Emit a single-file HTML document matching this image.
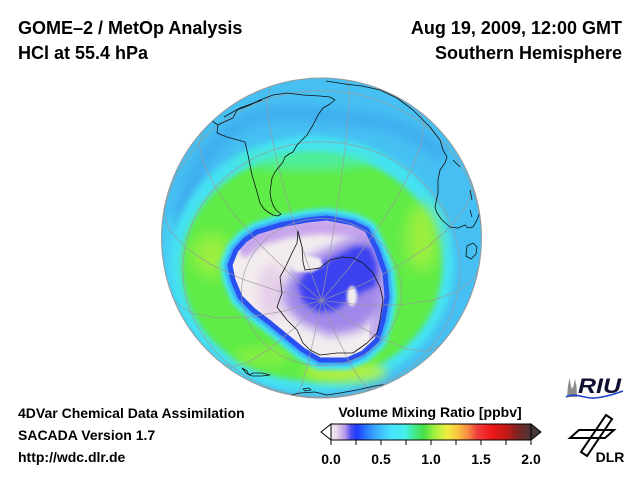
<!DOCTYPE html>
<html>
<head>
<meta charset="utf-8">
<style>
html,body{margin:0;padding:0;background:#fff;width:640px;height:480px;overflow:hidden;}
svg{display:block;}
text{font-family:"Liberation Sans",Arial,sans-serif;font-weight:bold;fill:#000;}
</style>
</head>
<body>
<svg width="640" height="480" viewBox="0 0 640 480" xmlns="http://www.w3.org/2000/svg">
<defs>
  <clipPath id="globe"><circle cx="321.5" cy="238" r="160"/></clipPath>
  <clipPath id="vort"><polygon points="233,280 230,265 236,250 245,240 257,232 280,225 307,220 327,218 353,223 367,230 377,250 385,273 387,297 383,320 377,340 363,353 347,360 320,360 303,350 287,337 270,323 253,310 240,297"/></clipPath>
  <filter id="b1" x="-30%" y="-30%" width="160%" height="160%"><feGaussianBlur stdDeviation="1.2"/></filter>
  <filter id="b2" x="-30%" y="-30%" width="160%" height="160%"><feGaussianBlur stdDeviation="2"/></filter>
  <filter id="b3" x="-30%" y="-30%" width="160%" height="160%"><feGaussianBlur stdDeviation="3"/></filter>
  <filter id="b5" x="-30%" y="-30%" width="160%" height="160%"><feGaussianBlur stdDeviation="5"/></filter>
  <filter id="b8" x="-40%" y="-40%" width="180%" height="180%"><feGaussianBlur stdDeviation="8"/></filter>
  <linearGradient id="cb" x1="331" y1="0" x2="531" y2="0" gradientUnits="userSpaceOnUse">
    <stop offset="0" stop-color="#f4ecec"/>
    <stop offset="0.03" stop-color="#e8d4e8"/>
    <stop offset="0.07" stop-color="#b898ec"/>
    <stop offset="0.10" stop-color="#5050f0"/>
    <stop offset="0.13" stop-color="#1c3cff"/>
    <stop offset="0.18" stop-color="#2c80ff"/>
    <stop offset="0.24" stop-color="#40b8ff"/>
    <stop offset="0.30" stop-color="#48e4ff"/>
    <stop offset="0.37" stop-color="#44f0e8"/>
    <stop offset="0.42" stop-color="#44e888"/>
    <stop offset="0.46" stop-color="#44e048"/>
    <stop offset="0.52" stop-color="#a8f040"/>
    <stop offset="0.58" stop-color="#f0f040"/>
    <stop offset="0.63" stop-color="#f8c840"/>
    <stop offset="0.68" stop-color="#f89040"/>
    <stop offset="0.73" stop-color="#f04040"/>
    <stop offset="0.80" stop-color="#f01818"/>
    <stop offset="0.88" stop-color="#c01818"/>
    <stop offset="0.93" stop-color="#802424"/>
    <stop offset="1" stop-color="#4c3434"/>
  </linearGradient>
</defs>

<!-- Header text -->
<text x="18" y="34" font-size="18">GOME–2 / MetOp Analysis</text>
<text x="18" y="59" font-size="18">HCl at 55.4 hPa</text>
<text x="622" y="34" font-size="18" text-anchor="end">Aug 19, 2009, 12:00 GMT</text>
<text x="622" y="59" font-size="18" text-anchor="end">Southern Hemisphere</text>

<!-- Globe -->
<g clip-path="url(#globe)">
  <rect x="158" y="74" width="328" height="328" fill="#46c0f2"/>
  <path d="M180,240 C182,195 198,155 232,130 S300,114 340,117 S412,126 442,156" stroke="#3a9cee" stroke-width="14" fill="none" opacity="0.55" filter="url(#b5)"/>
  <ellipse cx="170" cy="258" rx="8" ry="45" fill="#4cd8f4" opacity="0.6" filter="url(#b3)"/>
  <!-- cyan band -->
  <ellipse cx="312" cy="264" rx="142" ry="128" fill="#44e2f2" filter="url(#b3)"/>
  <!-- green ring -->
  <ellipse cx="312" cy="267" rx="130" ry="114" fill="#5eec46" filter="url(#b3)"/>
  <ellipse cx="305" cy="160" rx="70" ry="10" fill="#48eec0" opacity="0.7" filter="url(#b5)"/>
  <ellipse cx="212" cy="255" rx="20" ry="22" fill="#a4f040" opacity="0.85" filter="url(#b8)"/>
  <ellipse cx="422" cy="238" rx="16" ry="34" fill="#a8f040" opacity="0.85" filter="url(#b8)"/>
  <ellipse cx="345" cy="372" rx="42" ry="11" fill="#b8f040" opacity="0.9" filter="url(#b5)"/>
  <ellipse cx="262" cy="356" rx="28" ry="10" fill="#90f040" opacity="0.7" filter="url(#b5)"/>
  <!-- vortex halo -->
  <polygon points="233,280 230,265 236,250 245,240 257,232 280,225 307,220 327,218 353,223 367,230 377,250 385,273 387,297 383,320 377,340 363,353 347,360 320,360 303,350 287,337 270,323 253,310 240,297" fill="#44e4f4" stroke="#44e4f4" stroke-width="20" stroke-linejoin="round" filter="url(#b2)"/>
  <polygon points="233,280 230,265 236,250 245,240 257,232 280,225 307,220 327,218 353,223 367,230 377,250 385,273 387,297 383,320 377,340 363,353 347,360 320,360 303,350 287,337 270,323 253,310 240,297" fill="#3aa8f8" stroke="#3aa8f8" stroke-width="11" stroke-linejoin="round" filter="url(#b1)"/>
  <!-- vortex interior -->
  <g clip-path="url(#vort)">
    <rect x="225" y="212" width="170" height="155" fill="#f3ecee"/>
    <path d="M240,252 L258,238 L290,229 L322,226 L352,229 L372,238" stroke="#c8a6ec" stroke-width="16" fill="none" filter="url(#b3)"/>
    <path d="M372,238 L382,270 L382,310 L372,338" stroke="#b89cee" stroke-width="12" fill="none" opacity="0.8" filter="url(#b3)"/>
    <ellipse cx="272" cy="292" rx="14" ry="28" fill="#e6d0ea" filter="url(#b5)"/>
    <polygon points="283,290 298,262 325,250 350,238 374,238 384,272 380,312 360,330 330,336 300,322 285,306" fill="#a088ea" filter="url(#b5)"/>
    <polygon points="298,284 308,270 325,262 340,254 356,246 370,247 377,264 376,286 362,292 346,302 334,311 317,312 303,302" fill="#3c42f0" filter="url(#b3)"/>
    <polygon points="287,262 292,252 305,255 320,258 323,266 312,272 296,272" fill="#f3ecee" filter="url(#b1)"/>
    <ellipse cx="352" cy="296" rx="5" ry="10" fill="#f3ecee" filter="url(#b1)"/>
  </g>
  <polygon points="233,280 230,265 236,250 245,240 257,232 280,225 307,220 327,218 353,223 367,230 377,250 385,273 387,297 383,320 377,340 363,353 347,360 320,360 303,350 287,337 270,323 253,310 240,297" fill="none" stroke="#2a50f2" stroke-width="5" stroke-linejoin="round"/>

  <!-- grid -->
  <g fill="none" stroke="#9a9a9a" stroke-width="0.8" opacity="0.8">
    <ellipse cx="321.5" cy="292.1" rx="80" ry="73.6"/>
    <ellipse cx="321.5" cy="269.3" rx="138.6" ry="127.5"/>
    <path d="M161.5,238 A160,147.3 0 0 1 481.5,238"/>
    <polyline points="321.5,300.5 328.7,260.8 335.4,219.6 341.1,179.7 345.6,143.7 348.3,114.1 349.3,93 347.1,80.1"/>
    <polyline points="321.5,300.5 307.3,262.6 294.1,222.9 282.8,184.4 274.1,149.4 268.7,120.5 266.8,99.6 270.7,86.3"/>
    <polyline points="321.5,300.5 348.1,269.2 372.9,235.7 394.2,202.5 410.6,171.6 420.8,145.2 424.3,125.2 419.3,111.4"/>
    <polyline points="321.5,300.5 289.8,273.9 260.2,244.8 234.9,215.3 215.4,187.3 203.2,162.7 198.9,143.3 203.3,130.2"/>
    <polyline points="321.5,300.5 360.4,285.4 396.7,266.9 427.8,246.6 451.7,225.7 466.7,205.5 471.9,187.6 470.3,179.1"/>
    <polyline points="321.5,300.5 280.7,291.8 242.7,279.3 210.1,264.1 185,247.1 169.3,229.5 163.9,212.4 164.4,207.9"/>
    <polyline points="321.5,300.5 362.3,305 400.3,304.9 432.9,300.3 458,291.4 473.7,278.9 478.6,268.1"/>
    <polyline points="321.5,300.5 282.6,311.4 246.3,317.3 215.2,317.8 191.3,312.9 176.3,302.9 172.7,296.9"/>
    <polyline points="321.5,300.5 353.2,322.9 382.8,339.4 408.1,349.1 427.6,351.3 439.7,345.8"/>
    <polyline points="321.5,300.5 294.9,327.6 270.1,348.5 248.8,361.9 232.4,367 223.7,364.6"/>
    <polyline points="321.5,300.5 335.7,334.2 348.9,361.3 360.2,380 368.9,389.2 372.3,389.7"/>
    <polyline points="321.5,300.5 314.3,335.9 307.6,364.6 301.9,384.7 297.4,394.9 295.9,395.9"/>
  </g>

  <!-- coastlines -->
  <g fill="none" stroke="#111" stroke-width="0.8" stroke-linejoin="round">
    <path d="M206,119 L212,121 L218,125 L217,133 L227,137 L245,142 L248,155 L250,165 L252,175 L255,185 L257,192 L260,203 L264,209 L268,212 L273,215 L278,216 L281,214 L276,210 L273,205 L271,199 L270,192 L271,185 L272,178 L275,172 L279,167 L283,162 L285,157 L289,154 L293,152 L297,145 L300,142 L307,135 L313,125 L318,115 L323,108 L330,104 L335,100 L330,97 L320,96 L303,95 L287,93 L273,95 L260,100 L250,105 L237,110 L233,118 L222,123 L218,125"/>
    <path d="M224,117 L240,108 L262,100"/>
    <path d="M326,81 L345,84 L362,86 L380,90 L397,98 L413,110 L430,127 L440,140 L443,150 L447,157 L445,163 L440,170 L438,180 L438,193 L435,207 L437,213 L442,220 L450,227 L458,228 L465,225 L468,228 L473,227 L477,220 L480,212"/>
    <path d="M453,160 L460,167 M470,190 L472,200 M470,210 L472,217"/>
    <path d="M467,246 L473,243 L477,247 L476,254 L471,259 L466,256 Z"/>
    <path d="M298,231 L297,243 L292,253 L285,268 L280,277 L282,293 L277,307 L287,320 L297,330 L303,343 L310,350 L320,355 L337,353 L353,353 L367,343 L377,333 L380,320 L383,300 L380,287 L373,273 L363,263 L353,258 L343,257 L330,260 L320,268 L305,270 L303,262 L302,247 Z"/>
    <path d="M242,368 L247,371 L249,375 L253,373 L262,373 L270,375 L262,376 L252,376 L246,373 Z"/>
    <path d="M287,396 L300,393 L315,392 L327,395 L340,393 L357,390 L370,387 L380,385 L386,385"/>
    <path d="M303,389 L309,388 L311,390 L305,391 Z"/>
  </g>
</g>
<circle cx="321.5" cy="238" r="160" fill="none" stroke="#999" stroke-width="1"/>

<!-- Bottom-left text -->
<text x="18" y="418" font-size="14">4DVar Chemical Data Assimilation</text>
<text x="18" y="440" font-size="14">SACADA Version 1.7</text>
<text x="18" y="462" font-size="14">http://wdc.dlr.de</text>

<!-- Colorbar -->
<text x="430" y="417" font-size="14" text-anchor="middle">Volume Mixing Ratio [ppbv]</text>
<rect x="331" y="424" width="200" height="16" fill="url(#cb)" stroke="#000" stroke-width="1"/>
<polygon points="331,424 321,432 331,440" fill="#fff" stroke="#000" stroke-width="1"/>
<polygon points="531,424 541,432 531,440" fill="#4a3838" stroke="#000" stroke-width="1"/>
<g stroke="#000" stroke-width="1">
  <line x1="331" y1="440" x2="331" y2="445"/>
  <line x1="356" y1="440" x2="356" y2="445"/>
  <line x1="381" y1="440" x2="381" y2="445"/>
  <line x1="406" y1="440" x2="406" y2="445"/>
  <line x1="431" y1="440" x2="431" y2="445"/>
  <line x1="456" y1="440" x2="456" y2="445"/>
  <line x1="481" y1="440" x2="481" y2="445"/>
  <line x1="506" y1="440" x2="506" y2="445"/>
  <line x1="531" y1="440" x2="531" y2="445"/>
</g>
<text x="331" y="464" font-size="14" text-anchor="middle">0.0</text>
<text x="381" y="464" font-size="14" text-anchor="middle">0.5</text>
<text x="431" y="464" font-size="14" text-anchor="middle">1.0</text>
<text x="481" y="464" font-size="14" text-anchor="middle">1.5</text>
<text x="531" y="464" font-size="14" text-anchor="middle">2.0</text>

<!-- RIU logo -->
<path d="M567,397 L568,386 L569.5,378 L571,386 L572,389 L573.5,386 L575,379 L576.5,386 L577,397 Z" fill="#8c8c8c"/>
<text x="578" y="393" font-size="21" font-style="italic" textLength="43" lengthAdjust="spacingAndGlyphs" style="fill:#101030">RIU</text>
<path d="M566,397 C575,392 585,399 595,398 C605,397 615,394 623,391" stroke="#2244cc" stroke-width="1.6" fill="none"/>

<!-- DLR logo -->
<g fill="none" stroke="#000" stroke-width="2" stroke-linejoin="miter">
  <path d="M570,438 L579,430 L614,430 L605,438 Z"/>
  <path d="M606,415 L612,419 L587,456 L581,452 Z"/>
</g>
<text x="610" y="462" font-size="14" text-anchor="middle">DLR</text>
</svg>
</body>
</html>
